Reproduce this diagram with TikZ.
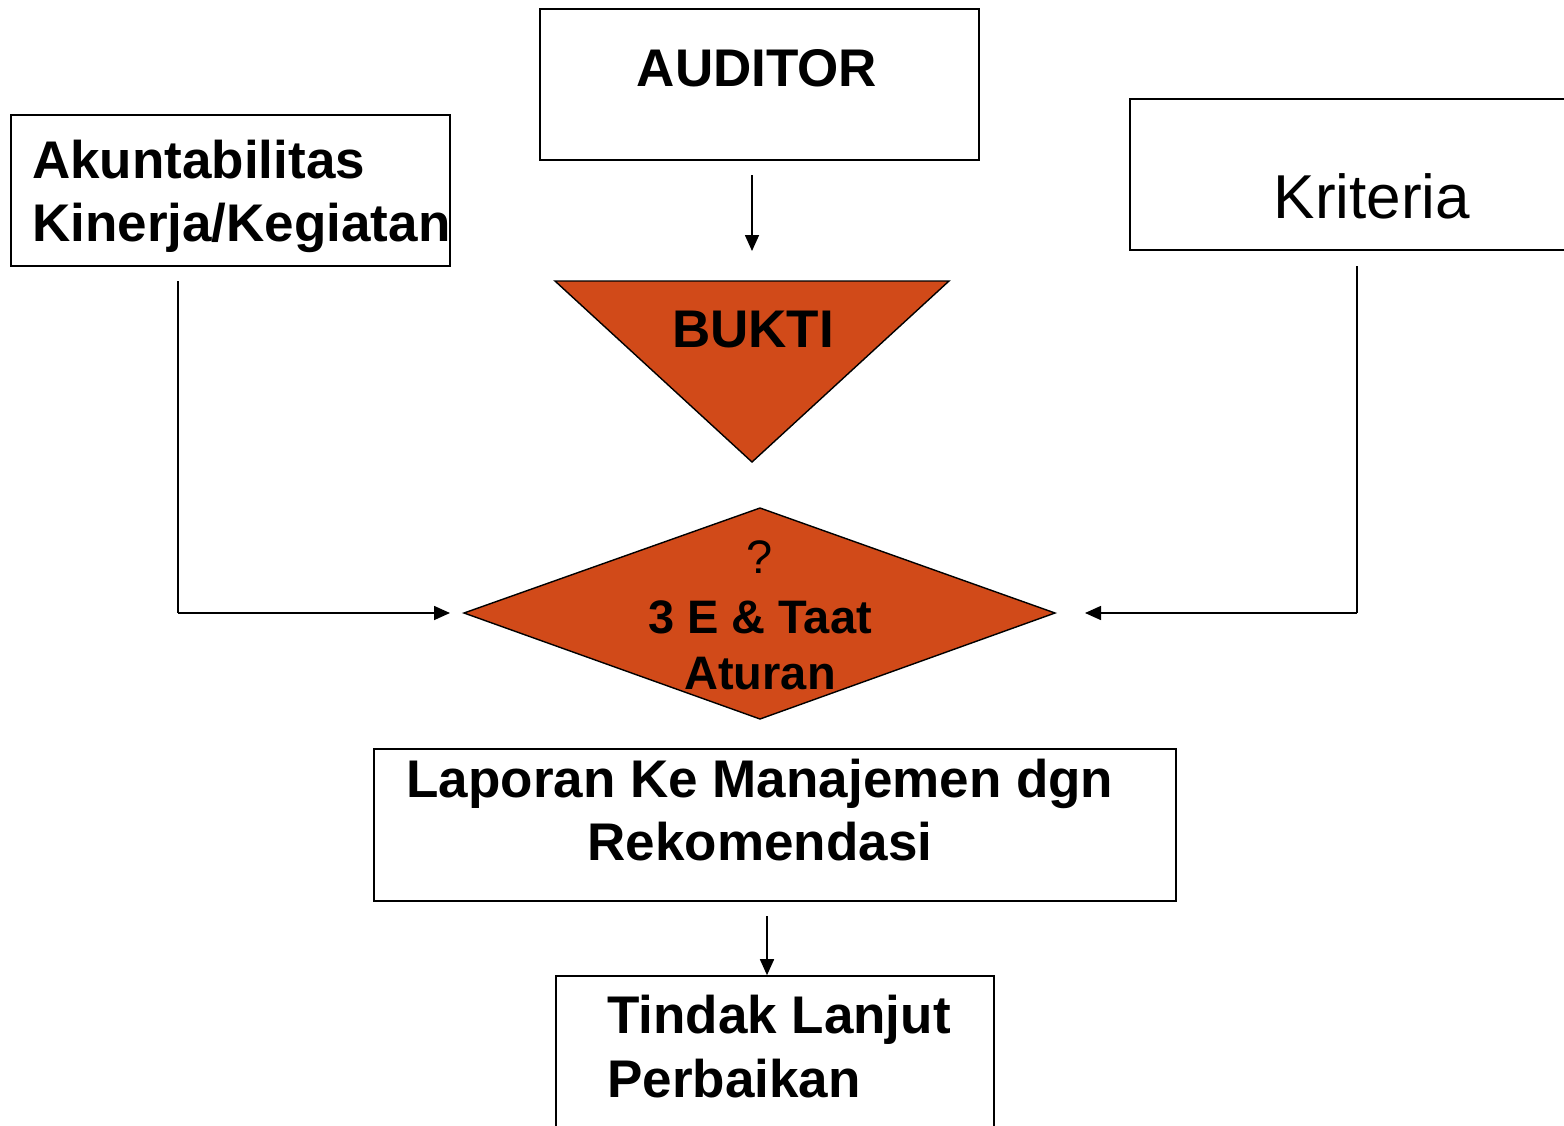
\documentclass[tikz,border=0pt]{standalone}
\usepackage{fontspec}
\setmainfont{Liberation Sans}
\usetikzlibrary{arrows.meta}
\definecolor{evidence}{RGB}{209,74,25}
\tikzset{
  frame/.style={draw=black, line width=1.6pt, fill=white, inner sep=0pt},
  shapeline/.style={draw=black, line width=1.4pt, fill=evidence, line join=miter},
  boldtext/.style={font=\fontsize{53}{63}\selectfont\bfseries, inner sep=0pt, anchor=base},
  midtext/.style={font=\fontsize{47}{56}\selectfont\bfseries, inner sep=0pt, anchor=base},
  plaintext/.style={font=\fontsize{62}{70}\selectfont, inner sep=0pt, anchor=base},
  flow/.style={line width=1.6pt, -{Triangle[length=16pt,width=14pt]}},
  wire/.style={line width=1.6pt},
}
\begin{document}
\begin{tikzpicture}[x=1pt,y=-1pt]
\useasboundingbox (0,0) rectangle (1564,1125);
\fill[white] (0,0) rectangle (1564,1125);

% top row of boxes
\node[frame, minimum width=439pt, minimum height=151pt] (auditor) at (759.5,84.5) {};
\node[frame, minimum width=439pt, minimum height=151pt] (akun) at (230.5,190.5) {};
\node[frame, minimum width=440pt, minimum height=151pt] (kriteria) at (1350,174.5) {};

\node[boldtext] (auditorText) at (757,86) {AUDITOR};
\node[boldtext, anchor=base west] (akunTextA) at (32,178) {Akuntabilitas};
\node[boldtext, anchor=base west] (akunTextB) at (32,241) {Kinerja/Kegiatan};
\node[plaintext] (kriteriaText) at (1372,218) {Kriteria};

% evidence triangle
\coordinate (triL) at (555,281);
\coordinate (triR) at (949,281);
\coordinate (triB) at (752,462);
\path[shapeline] (triL) -- (triR) -- (triB) -- cycle;
\node[boldtext] (buktiText) at (753,347) {BUKTI};

% decision diamond
\coordinate (dmW) at (464,613);
\coordinate (dmN) at (760,508);
\coordinate (dmE) at (1055,613);
\coordinate (dmS) at (760,719);
\path[shapeline] (dmW) -- (dmN) -- (dmE) -- (dmS) -- cycle;
\node[font=\fontsize{47}{56}\selectfont, inner sep=0pt, anchor=base] (askText) at (760,573) {?};
\node[midtext] (dmTextA) at (760,633) {3 E \& Taat};
\node[midtext] (dmTextB) at (760,689) {Aturan};

% report and follow-up boxes
\node[frame, minimum width=802pt, minimum height=152pt] (laporan) at (775,825) {};
\node[boldtext] (lapTextA) at (760,797) {Laporan Ke Manajemen dgn};
\node[boldtext] (lapTextB) at (760,860) {Rekomendasi};

\node[frame, minimum width=438pt, minimum height=170pt] (tindak) at (775,1061) {};
\node[boldtext, anchor=base west] (tinTextA) at (607,1033) {Tindak Lanjut};
\node[boldtext, anchor=base west] (tinTextB) at (607,1097) {Perbaikan};

% connectors
\coordinate (audOut) at (752,175);
\coordinate (triIn) at (752,251);
\draw[flow] (audOut) -- (triIn);

\coordinate (akunOut) at (178,281);
\coordinate (akunBend) at (178,613);
\coordinate (dmInW) at (450,613);
\draw[wire] (akunOut) -- (akunBend);
\draw[flow] (akunBend) -- (dmInW);

\coordinate (kritOut) at (1357,266);
\coordinate (kritBend) at (1357,613);
\coordinate (dmInE) at (1085,613);
\draw[wire] (kritOut) -- (kritBend);
\draw[flow] (kritBend) -- (dmInE);

\coordinate (lapOut) at (767,916);
\draw[flow] (lapOut) -- (lapOut |- tindak.north);
\end{tikzpicture}
\end{document}
